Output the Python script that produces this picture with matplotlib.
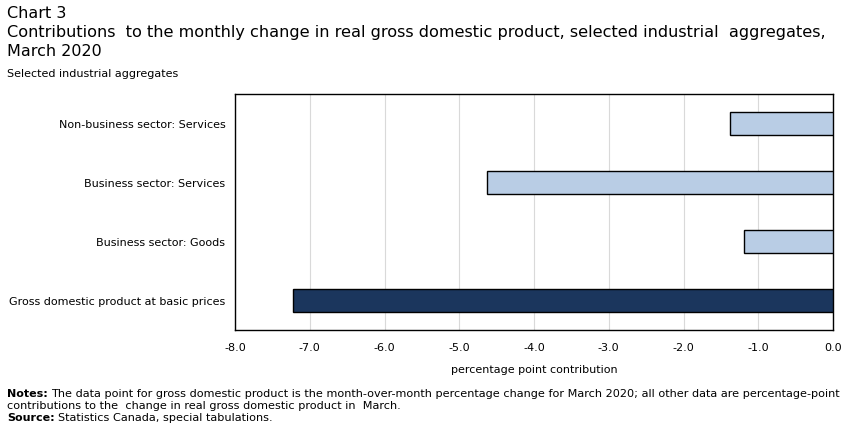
import matplotlib
matplotlib.use("Agg")
import matplotlib.pyplot as plt

### ---- Data
categories = ["Gross domestic product at basic prices",
              "Business sector: Goods",
              "Business sector: Services",
              "Non-business sector: Services"]
values = [-7.22, -1.19, -4.63, -1.38]
colors = ["#1b365d", "#b9cde5", "#b9cde5", "#b9cde5"]
xticks = [-8.0, -7.0, -6.0, -5.0, -4.0, -3.0, -2.0, -1.0, 0.0]

plt.rcParams['font.family'] = ['DejaVu Sans']

W, H = 851, 436
fig = plt.figure(figsize=(W / 100, H / 100), dpi=100)
ax = fig.add_axes([235 / W, (H - 330) / H, (833 - 235) / W, (330 - 94) / H])

ax.barh(range(len(categories)), values, height=0.4, color=colors,
        edgecolor="black", linewidth=1, zorder=3)
ax.set_xlim(-8, 0)
ax.set_ylim(-0.5, 3.5)
ax.set_xticks(xticks)
ax.set_xticklabels([f"{t:.1f}" for t in xticks], fontsize=8)
ax.set_yticks(range(len(categories)))
ax.set_yticklabels(categories, fontsize=8)
ax.tick_params(length=0)
ax.tick_params(axis="x", pad=9)
ax.tick_params(axis="y", pad=7)
ax.grid(axis="x", color="#d9d9d9", linewidth=0.8, zorder=0)
for s in ax.spines.values():
    s.set_linewidth(1)
ax.set_xlabel("percentage point contribution", fontsize=8, labelpad=9)

### ---- Titles and notes
fig.text(7 / W, 1 - 14 / H, "Chart 3", fontsize=11.5, va="center")
fig.text(7 / W, 1 - 33 / H,
         "Contributions  to the monthly change in real gross domestic product, selected industrial  aggregates,",
         fontsize=11.6, va="center")
fig.text(7 / W, 1 - 51 / H, "March 2020", fontsize=11.5, va="center")
fig.text(7 / W, 1 - 74 / H, "Selected industrial aggregates", fontsize=8, va="center")

renderer = fig.canvas.get_renderer()

def bold_line(y, head, rest):
    t = fig.text(7 / W, 1 - y / H, head, fontsize=8, fontweight="bold", va="center")
    bb = t.get_window_extent(renderer)
    fig.text(bb.x1 / W + 3 / W, 1 - y / H, rest, fontsize=8.1, va="center")

bold_line(394, "Notes:", "The data point for gross domestic product is the month-over-month percentage change for March 2020; all other data are percentage-point")
fig.text(7 / W, 1 - 406 / H, "contributions to the  change in real gross domestic product in  March.",
         fontsize=8.1, va="center")
bold_line(418, "Source:", "Statistics Canada, special tabulations.")

fig.savefig("out.png", dpi=100)
